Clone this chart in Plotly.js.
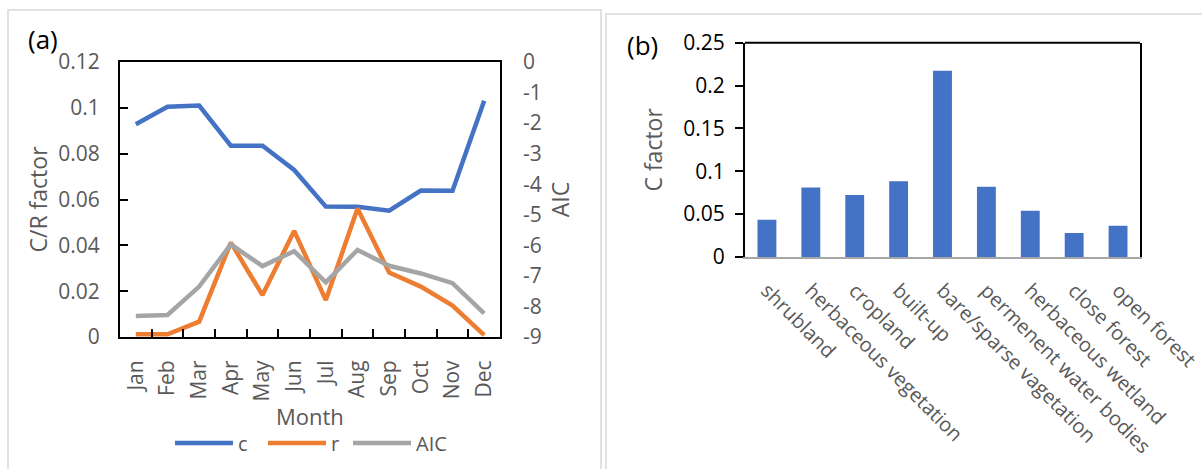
<!DOCTYPE html>
<html>
<head>
<meta charset="utf-8">
<script src="https://cdn.plot.ly/plotly-3.0.1.min.js"></script>
<style>html,body{margin:0;padding:0;background:#fff;}#chart{width:1202px;height:469px;}</style>
</head>
<body>
<div id="chart"></div>
<script>
// ---- data ----
const months = ['Jan','Feb','Mar','Apr','May','Jun','Jul','Aug','Sep','Oct','Nov','Dec'];
const cValues = [0.0928, 0.1005, 0.1010, 0.0835, 0.0835, 0.0729, 0.0569, 0.0568, 0.0551, 0.0639, 0.0638, 0.1031];
const rValues = [0.0012, 0.0012, 0.0067, 0.0412, 0.0183, 0.0463, 0.0161, 0.0561, 0.0281, 0.0220, 0.0137, 0.0008];
const aicValues = [-8.31, -8.28, -7.35, -5.97, -6.68, -6.19, -7.21, -6.15, -6.67, -6.92, -7.24, -8.23];
const aicTickVals = [0, -1, -2, -3, -4, -5, -6, -7, -8, -9];
const aicTickText = ['0', '-1', '-2', '-3', '-4', '-5', '-6', '-7', '-8', '-9'];
const landCover = ['shrubland', 'herbaceous vegetation', 'cropland', 'built-up', 'bare/sparse vagetation',
                   'permenent water bodies', 'herbaceous wetland', 'close forest', 'open forest'];
const cFactor = [0.0435, 0.0811, 0.0722, 0.0885, 0.2174, 0.0819, 0.0540, 0.0280, 0.0365];

// ---- layout helpers ----
const W = 1202, H = 469;
const px = v => v / W;
const py = v => 1 - v / H;
const FONT = 'Open Sans, DejaVu Sans, sans-serif';
const GREY = '#595959';

const traces = [
  {x: months, y: cValues, name: 'c', type: 'scatter', mode: 'lines', legend: 'legend',
   line: {color: '#4472C4', width: 4.5}, xaxis: 'x', yaxis: 'y'},
  {x: months, y: rValues, name: 'r', type: 'scatter', mode: 'lines', legend: 'legend2',
   line: {color: '#ED7D31', width: 4.5}, xaxis: 'x', yaxis: 'y'},
  {x: months, y: aicValues, name: 'AIC', type: 'scatter', mode: 'lines', legend: 'legend3',
   line: {color: '#A5A5A5', width: 4.5}, xaxis: 'x', yaxis: 'y2'},
  {x: landCover, y: cFactor, name: 'C factor', type: 'bar', showlegend: false,
   marker: {color: '#4472C4'}, xaxis: 'x3', yaxis: 'y3'}
];

const legendBase = (xLeft) => ({orientation: 'h', x: px(xLeft), xanchor: 'left', y: py(443), yanchor: 'middle',
  font: {size: 20, color: GREY}, itemwidth: 58, bgcolor: 'rgba(0,0,0,0)', borderwidth: 0});

const layout = {
  width: W, height: H,
  margin: {l: 0, r: 0, t: 0, b: 0},
  paper_bgcolor: '#ffffff', plot_bgcolor: 'rgba(0,0,0,0)',
  font: {family: FONT, color: GREY, size: 20},
  showlegend: true,
  legend: legendBase(170),
  legend2: legendBase(263),
  legend3: legendBase(348),
  bargap: 0.57,
  xaxis: {domain: [px(120), px(500)], anchor: 'y', type: 'category', range: [-0.5, 11.5],
          showline: true, linecolor: '#000', linewidth: 2, mirror: true,
          ticks: 'inside', tickson: 'boundaries', ticklen: 8, tickwidth: 2, tickcolor: '#000',
          tickangle: -90, tickfont: {size: 21, color: GREY}, ticklabelstandoff: 13,
          showgrid: false, zeroline: false},
  yaxis: {domain: [py(337), py(62)], anchor: 'x', range: [0, 0.12], dtick: 0.02,
          showline: true, linecolor: '#000', linewidth: 2, mirror: true,
          ticks: 'inside', ticklen: 8, tickwidth: 2, tickcolor: '#000',
          tickfont: {size: 21, color: GREY}, ticklabelstandoff: 14,
          showgrid: false, zeroline: false,
          title: {text: 'C/R factor', font: {size: 23, color: GREY}, standoff: 4}},
  yaxis2: {overlaying: 'y', side: 'right', anchor: 'x', range: [-9, 0],
           tickvals: aicTickVals, ticktext: aicTickText, ticks: '',
           tickfont: {size: 21, color: GREY}, ticklabelstandoff: 22,
           showgrid: false, zeroline: false, showline: false,
           title: {text: 'AIC', font: {size: 23, color: GREY}, standoff: 12}},
  xaxis3: {domain: [px(745), px(1140)], anchor: 'y3', type: 'category',
           showline: true, linecolor: '#A6A6A6', linewidth: 2, ticks: '',
           tickangle: 45, tickfont: {size: 20, color: GREY}, ticklabelstandoff: 12,
           showgrid: false, zeroline: false},
  yaxis3: {domain: [py(257), py(42.7)], anchor: 'x3', range: [0, 0.25], dtick: 0.05,
           showline: true, linecolor: '#000', linewidth: 2, mirror: true,
           ticks: 'outside', ticklen: 8, tickwidth: 2, tickcolor: '#000',
           tickfont: {size: 21, color: '#000'}, ticklabelstandoff: 6,
           showgrid: false, zeroline: false,
           title: {text: 'C factor', font: {size: 23, color: GREY}, standoff: 14}},
  shapes: [
    {type: 'rect', xref: 'paper', yref: 'paper', x0: px(8), x1: px(601), y0: -0.05, y1: py(10),
     line: {color: '#D9D9D9', width: 1.5}, fillcolor: 'rgba(0,0,0,0)', layer: 'below'},
    {type: 'rect', xref: 'paper', yref: 'paper', x0: px(606), x1: 1.05, y0: -0.05, y1: py(14),
     line: {color: '#D9D9D9', width: 1.5}, fillcolor: 'rgba(0,0,0,0)', layer: 'below'},
    {type: 'line', xref: 'paper', yref: 'paper', x0: px(745), x1: px(1140), y0: py(42.7), y1: py(42.7),
     line: {color: '#000', width: 2}}
  ],
  annotations: [
    {text: '(a)', xref: 'paper', yref: 'paper', x: px(26), y: py(39), xanchor: 'left', yanchor: 'middle',
     showarrow: false, font: {size: 26, color: '#000'}},
    {text: '(b)', xref: 'paper', yref: 'paper', x: px(625), y: py(45), xanchor: 'left', yanchor: 'middle',
     showarrow: false, font: {size: 26, color: '#000'}},
    {text: 'Month', xref: 'paper', yref: 'paper', x: px(310), y: py(416), xanchor: 'center', yanchor: 'middle',
     showarrow: false, font: {size: 22, color: GREY}}
  ]
};

Plotly.newPlot('chart', traces, layout, {displayModeBar: false, staticPlot: true});
</script>
</body>
</html>
